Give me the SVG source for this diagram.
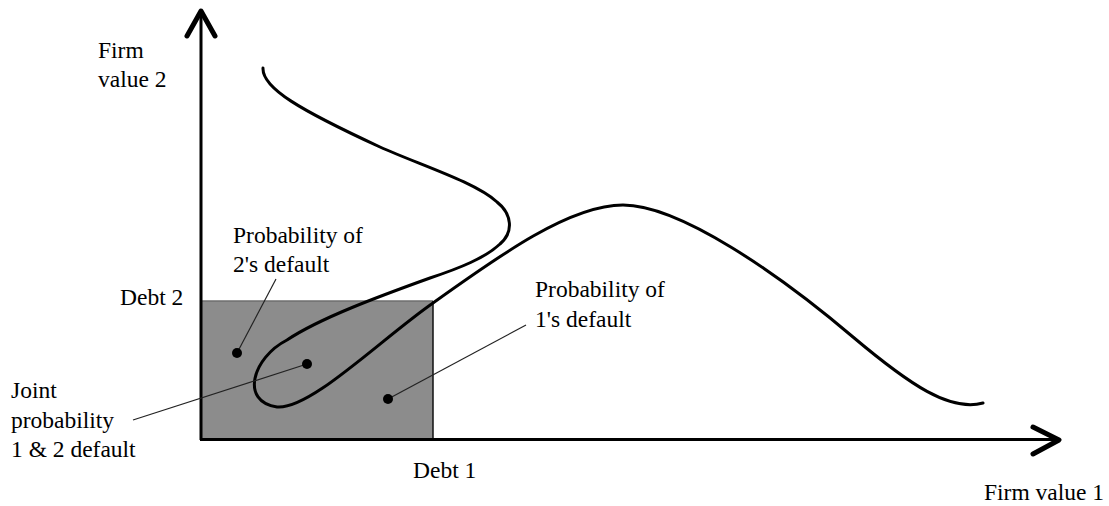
<svg xmlns="http://www.w3.org/2000/svg" width="1109" height="506" viewBox="0 0 1109 506">
<style>
.lbl{font-family:"Liberation Serif","Times New Roman",serif;font-size:23.5px;fill:#000}
.axis{stroke:#000;stroke-width:3;fill:none}
.head{stroke:#000;stroke-width:5;fill:none;stroke-linecap:round;stroke-linejoin:round}
.curve{stroke:#000;stroke-width:3;fill:none;stroke-linecap:round}
.leader{stroke:#222;stroke-width:1.2;fill:none}
.dot{fill:#000}
</style>
<rect width="1109" height="506" fill="#fff"/>
<g id="default-region">
<rect x="201" y="301" width="232" height="138" fill="#8c8c8c"/>
<line x1="201" y1="301" x2="433" y2="301" stroke="#6e6e6e" stroke-width="1.5"/>
<line x1="433" y1="301" x2="433" y2="439" stroke="#111" stroke-width="1.5"/>
</g>
<g id="axes">
<line class="axis" x1="201" y1="440" x2="201" y2="12"/>
<polyline class="head" points="187,36 201,11 215,36"/>
<line class="axis" x1="200" y1="439.5" x2="1058" y2="439.5"/>
<polyline class="head" points="1033,427 1059,440 1033,454"/>
</g>
<g id="distribution">
<path class="curve" d="M263,68 C262,88 300,110 380,147 C420,165 475,182 497,202 C512,214 514,232 500,244 C485,258 460,268 430,278 C380,296 320,318 287,340 C252,358 240,402 277,407 C310,410 380,340 433,303 C500,255 570,205 623,205 C680,205 780,275 853,337 C910,385 950,412 983,403"/>
</g>
<g id="connectors">
<line class="leader" x1="276" y1="279" x2="237" y2="353"/>
<line class="leader" x1="307" y1="364" x2="133" y2="420"/>
<line class="leader" x1="388" y1="399" x2="526" y2="325"/>
</g>
<g id="dots">
<circle class="dot" cx="237" cy="353" r="5"/>
<circle class="dot" cx="307" cy="364" r="5"/>
<circle class="dot" cx="388" cy="399" r="5"/>
</g>
<g id="label-firm-value-2">
<text class="lbl" x="98" y="58">Firm</text>
<text class="lbl" x="98" y="87">value 2</text>
</g>
<g id="label-debt-2"><text class="lbl" x="120" y="305">Debt 2</text></g>
<g id="label-prob-2">
<text class="lbl" x="233" y="243">Probability of</text>
<text class="lbl" x="233" y="272">2's default</text>
</g>
<g id="label-prob-1">
<text class="lbl" x="535" y="297">Probability of</text>
<text class="lbl" x="535" y="327">1's default</text>
</g>
<g id="label-joint">
<text class="lbl" x="11" y="398">Joint</text>
<text class="lbl" x="11" y="428">probability</text>
<text class="lbl" x="11" y="457">1 &amp; 2 default</text>
</g>
<g id="label-debt-1"><text class="lbl" x="413" y="478">Debt 1</text></g>
<g id="label-firm-value-1"><text class="lbl" x="984" y="500">Firm value 1</text></g>
</svg>
